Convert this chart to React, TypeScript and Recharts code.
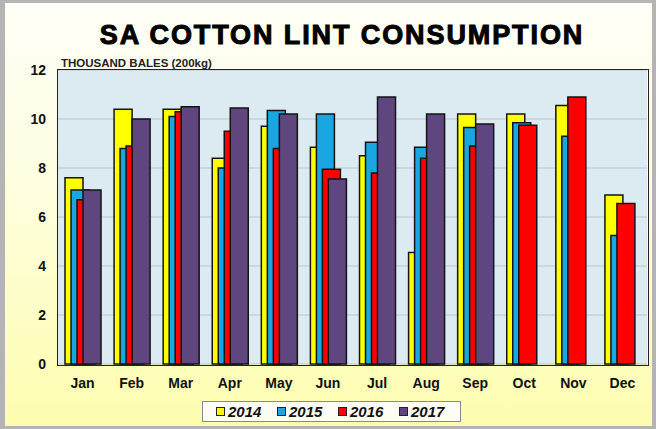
import React from 'react';
import { BarChart, Bar, XAxis, YAxis, CartesianGrid } from 'recharts';

const months = ['Jan', 'Feb', 'Mar', 'Apr', 'May', 'Jun', 'Jul', 'Aug', 'Sep', 'Oct', 'Nov', 'Dec'];
const v2014 = [7.6, 10.4, 10.4, 8.4, 9.7, 8.85, 8.5, 4.55, 10.2, 10.2, 10.55, 6.9];
const v2015 = [7.1, 8.8, 10.1, 8.0, 10.35, 10.2, 9.05, 8.85, 9.65, 9.85, 9.3, 5.25];
const v2016 = [6.7, 8.9, 10.3, 9.5, 8.8, 7.95, 7.8, 8.4, 8.9, 9.75, 10.9, 6.55];
const v2017: (number | null)[] = [7.1, 10.0, 10.5, 10.45, 10.2, 7.55, 10.9, 10.2, 9.8, null, null, null];
const yTicks = [0, 2, 4, 6, 8, 10, 12];

const seriesNames = ['2014', '2015', '2016', '2017'];
const seriesColors = ['#ffff00', '#1aa6e0', '#ff0000', '#5f467f'];
const seriesValues = [v2014, v2015, v2016, v2017];

const data = months.map((m, i) => {
  const row: Record<string, string | number | null> = { month: m };
  seriesNames.forEach((s, k) => {
    row[s] = seriesValues[k][i];
  });
  return row;
});

const FONT = '"Liberation Sans", Arial, sans-serif';

export default function App() {
  return (
    <div
      style={{
        position: 'absolute',
        left: 0,
        top: 0,
        width: 656,
        height: 429,
        background: 'linear-gradient(180deg, #fffff8 0%, #fefee2 40%, #fdfdae 100%)',
        fontFamily: FONT,
        overflow: 'hidden',
      }}
    >
      <BarChart
        width={656}
        height={429}
        data={data}
        margin={{ top: 70, right: 9, left: 8, bottom: 35 }}
        barGap={-12}
      >
        <CartesianGrid
          vertical={false}
          fill="#dceaf2"
          stroke="#bcc6cd"
          strokeWidth={1}
        />
        <XAxis
          dataKey="month"
          height={30}
          tickLine={false}
          axisLine={false}
          tickMargin={8}
          tick={{ fill: '#111', fontSize: 14, fontWeight: 700, fontFamily: FONT }}
          interval={0}
        />
        <YAxis
          width={50}
          domain={[0, 12]}
          ticks={yTicks}
          tickLine={false}
          axisLine={false}
          tickMargin={6}
          tick={{ fill: '#111', fontSize: 14, fontWeight: 700, fontFamily: FONT }}
        />
        {seriesNames.map((s, k) => (
          <Bar
            key={s}
            dataKey={s}
            fill={seriesColors[k]}
            stroke="#141414"
            strokeWidth={1.5}
            barSize={18}
            isAnimationActive={false}
          />
        ))}
      </BarChart>

      {/* plot frame */}
      <div
        style={{
          position: 'absolute',
          left: 57,
          top: 69,
          width: 590,
          height: 295,
          border: '1.5px solid #222',
          pointerEvents: 'none',
          boxSizing: 'content-box',
        }}
      />

      {/* titles */}
      <svg
        width={656}
        height={80}
        style={{ position: 'absolute', left: 0, top: 0, pointerEvents: 'none' }}
      >
        <text
          x={342}
          y={44}
          textAnchor="middle"
          fontFamily={FONT}
          fontWeight={700}
          fontSize={27}
          letterSpacing={1.9}
          fill="#000"
          stroke="#000"
          strokeWidth={1}
        >
          SA COTTON LINT CONSUMPTION
        </text>
        <text x={61} y={67} fontFamily={FONT} fontWeight={700} fontSize={11.5} fill="#222">
          THOUSAND BALES (200kg)
        </text>
      </svg>

      {/* legend */}
      <div
        style={{
          position: 'absolute',
          left: 202,
          top: 401,
          width: 259,
          height: 21,
          background: '#fdfdf3',
          border: '1px solid #8a8a8a',
          display: 'flex',
          alignItems: 'center',
          paddingLeft: 13,
          boxSizing: 'border-box',
        }}
      >
        {seriesNames.map((s, k) => (
          <div
            key={s}
            style={{ display: 'flex', alignItems: 'center', width: 61 }}
          >
            <div
              style={{
                width: 7,
                height: 7,
                background: seriesColors[k],
                border: '1px solid #222',
                marginRight: 3,
              }}
            />
            <span
              style={{
                fontSize: 15,
                fontWeight: 700,
                fontStyle: 'italic',
                color: '#111',
                lineHeight: '15px',
              }}
            >
              {s}
            </span>
          </div>
        ))}
      </div>

      {/* outer frame */}
      <div
        style={{
          position: 'absolute',
          left: 0,
          top: 0,
          width: 656,
          height: 429,
          boxSizing: 'border-box',
          borderTop: '3px solid #b4b4b4',
          borderLeft: '5px solid #b4b4b4',
          borderRight: '4px solid #b4b4b4',
          borderBottom: '3px solid #b4b4b4',
          pointerEvents: 'none',
        }}
      />
    </div>
  );
}
